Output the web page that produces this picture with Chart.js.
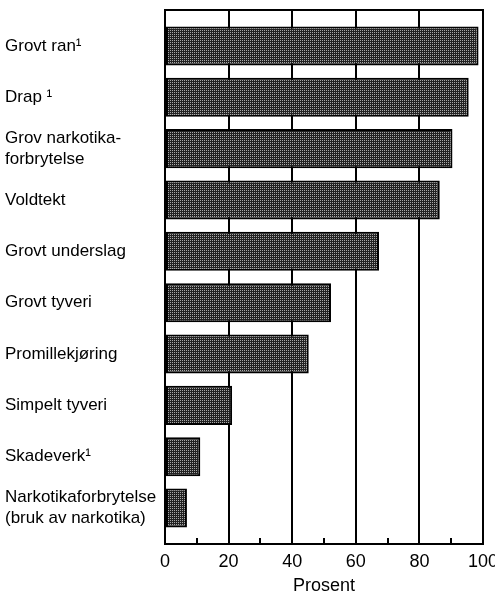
<!DOCTYPE html>
<html>
<head>
<meta charset="utf-8">
<script src="https://cdn.jsdelivr.net/npm/chart.js@4.4.1/dist/chart.umd.min.js"></script>
<style>
  html, body { margin: 0; padding: 0; background: #fff; }
  #wrap { width: 495px; height: 595px; }
</style>
</head>
<body>
<div id="wrap"><canvas id="barChart"></canvas></div>

<script>
// kategorier (ovenfra og ned) og andel i prosent
var categories = [
    "Grovt ran\u00b9",
    "Drap \u00b9",
    ["Grov narkotika-", "forbrytelse"],
    "Voldtekt",
    "Grovt underslag",
    "Grovt tyveri",
    "Promillekjøring",
    "Simpelt tyveri",
    "Skadeverk\u00b9",
    ["Narkotikaforbrytelse", "(bruk av narkotika)"]
];
var prosent = [98.6, 95.5, 90.4, 86.4, 67.3, 52.2, 45.2, 21.1, 11.1, 6.9];
var xTicks = [0, 20, 40, 60, 80, 100];
var minorTicks = [10, 30, 50, 70, 90];

var fontFamily = "'Liberation Sans', Arial, sans-serif";

// rasterlignende fyll som i originalen
function makePattern() {
    var c = document.createElement('canvas');
    c.width = 2; c.height = 2;
    var g = c.getContext('2d');
    g.fillStyle = '#222';
    g.fillRect(0, 0, 2, 2);
    g.fillStyle = '#a8a8a8';
    g.fillRect(0, 0, 1, 1);
    return g.createPattern(c, 'repeat');
}

var ctx = document.getElementById('barChart').getContext('2d');
var pattern = makePattern();

var framePlugin = {
    id: 'frame',
    afterDatasetsDraw: function (chart) {
        var a = chart.chartArea, x = chart.scales.x, g = chart.ctx;
        g.save();
        g.strokeStyle = '#000';
        g.lineWidth = 2;
        g.beginPath();
        g.moveTo(a.left, a.top);
        g.lineTo(a.right, a.top);
        g.lineTo(a.right, a.bottom);
        g.stroke();
        // korte merker innover for 10, 30, ...
        minorTicks.forEach(function (v) {
            var px = Math.round(x.getPixelForValue(v));
            g.beginPath();
            g.moveTo(px, a.bottom);
            g.lineTo(px, a.bottom - 6);
            g.stroke();
        });
        g.restore();
    }
};

new Chart(ctx, {
    type: 'bar',
    data: {
        datasets: [{
            data: prosent.map(function (v, i) { return { x: v, y: i }; }),
            backgroundColor: pattern,
            borderColor: '#000',
            borderWidth: 2,
            borderSkipped: false,
            categoryPercentage: 1,
            barPercentage: 0.76
        }]
    },
    options: {
        indexAxis: 'y',
        responsive: true,
        maintainAspectRatio: false,
        animation: false,
        layout: { padding: { left: 5, right: 12, top: 10, bottom: 0 } },
        plugins: {
            legend: { display: false },
            tooltip: { enabled: false }
        },
        scales: {
            x: {
                type: 'linear',
                min: 0,
                max: 100,
                afterBuildTicks: function (s) {
                    s.ticks = xTicks.map(function (v) { return { value: v }; });
                },
                afterFit: function (s) {
                    s.height = 51;
                    s.paddingLeft = 0;
                    s.paddingRight = 0;
                },
                grid: { color: '#000', lineWidth: 2, drawTicks: false },
                border: { display: true, color: '#000', width: 2 },
                ticks: {
                    color: '#000',
                    padding: 7,
                    maxRotation: 0,
                    font: { family: fontFamily, size: 18 }
                },
                title: {
                    display: true,
                    text: 'Prosent',
                    color: '#000',
                    padding: { top: 0, bottom: 0 },
                    font: { family: fontFamily, size: 18, lineHeight: 1 }
                }
            },
            y: {
                type: 'linear',
                reverse: true,
                offset: false,
                min: -0.7,
                max: 9.7,
                afterBuildTicks: function (s) {
                    s.ticks = categories.map(function (c, i) { return { value: i }; });
                },
                afterFit: function (s) {
                    s.width = 160;
                    s.paddingTop = 0;
                    s.paddingBottom = 0;
                },
                grid: { display: false, drawTicks: false, offset: false },
                border: { display: true, color: '#000', width: 2 },
                ticks: {
                    color: '#000',
                    crossAlign: 'far',
                    padding: 4,
                    font: { family: fontFamily, size: 17, lineHeight: 1.25 },
                    callback: function (v) { return categories[v]; }
                }
            }
        }
    },
    plugins: [framePlugin]
});
</script>
</body>
</html>
